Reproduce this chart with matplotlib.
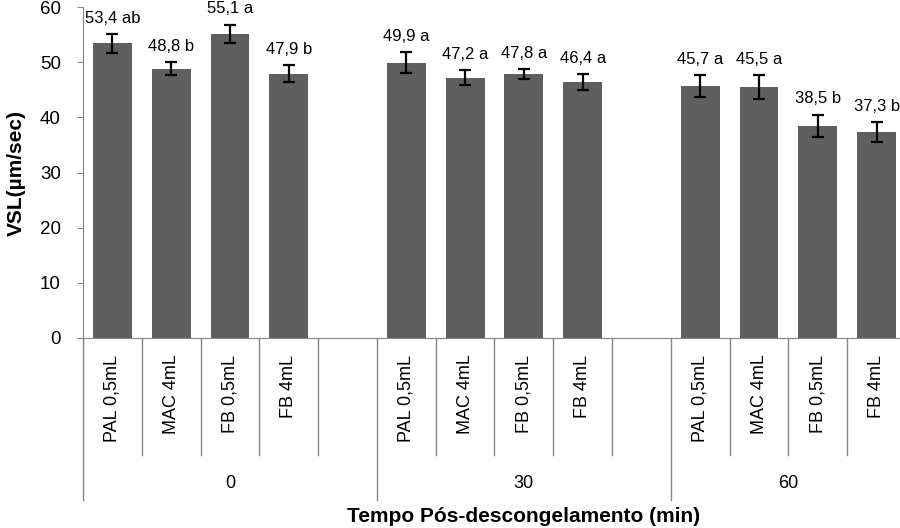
import matplotlib
matplotlib.use('Agg')
import matplotlib.pyplot as plt
import matplotlib.transforms as mtransforms

plt.rcParams['font.family'] = ['Liberation Sans', 'DejaVu Sans']

# Data
groups = ['0', '30', '60']
treatments = ['PAL 0,5mL', 'MAC 4mL', 'FB 0,5mL', 'FB 4mL']
values = [[53.4, 48.8, 55.1, 47.9],
          [49.9, 47.2, 47.8, 46.4],
          [45.7, 45.5, 38.5, 37.3]]
errors = [[1.7, 1.2, 1.7, 1.5],
          [1.9, 1.3, 0.9, 1.4],
          [2.0, 2.1, 2.0, 1.8]]
letters = [['ab', 'b', 'a', 'b'],
           ['a', 'a', 'a', 'a'],
           ['a', 'a', 'b', 'b']]

bar_color = '#5f5f5f'
axis_color = '#868686'

fig = plt.figure(figsize=(9, 5.28), dpi=100)
ax = fig.add_axes([83 / 900, 1 - 338 / 528, 823 / 900, 331 / 528])

# Excel-style category layout: a blank slot between groups
slot = 0
xs, ys, es, labs, starts = [], [], [], [], []
for g in range(len(groups)):
    starts.append(slot)
    for t in range(len(treatments)):
        xs.append(slot)
        ys.append(values[g][t])
        es.append(errors[g][t])
        labs.append(f"{values[g][t]:.1f}".replace('.', ',') + ' ' + letters[g][t])
        slot += 1
    if g < len(groups) - 1:
        slot += 1
nslots = slot

ax.bar(xs, ys, width=0.66, color=bar_color, zorder=2)
ax.errorbar(xs, ys, yerr=es, fmt='none', ecolor='black', elinewidth=1.6,
            capsize=4.5, capthick=1.6, zorder=3)
for x, y, e, lab in zip(xs, ys, es, labs):
    ax.annotate(lab, (x, y + e), xytext=(0, 6), textcoords='offset points',
                ha='center', va='bottom', fontsize=12)

ax.set_xlim(-0.5, nslots - 0.5)
ax.set_ylim(0, 60)
ax.set_yticks(range(0, 61, 10))
ax.tick_params(axis='y', length=4, color=axis_color, labelsize=13.5, pad=12)
ax.set_xticks([])
for s in ['top', 'right']:
    ax.spines[s].set_visible(False)
for s in ['left', 'bottom']:
    ax.spines[s].set_color(axis_color)

trans = mtransforms.blended_transform_factory(ax.transData, ax.transAxes)

# category labels and separators
for x, (g, t) in zip(xs, [(g, t) for g in range(len(groups)) for t in range(len(treatments))]):
    ax.text(x, -0.05, treatments[t], transform=trans, rotation=90,
            ha='center', va='top', fontsize=13)

group_ends = []
for g, s0 in enumerate(starts):
    end = s0 + len(treatments) + (1 if g < len(groups) - 1 else 0)
    group_ends.append(end)
    for b in range(s0 + 1, end):
        ax.plot([b - 0.5, b - 0.5], [0, -0.354], transform=trans, color=axis_color,
                lw=1, clip_on=False)
    ax.plot([s0 - 0.5, s0 - 0.5], [0, -0.49], transform=trans, color=axis_color,
            lw=1, clip_on=False)
    ax.text((s0 + end - 1) / 2, -0.44, groups[g], transform=trans,
            ha='center', va='center', fontsize=13)
ax.plot([group_ends[-1] - 0.5] * 2, [0, -0.49], transform=trans, color=axis_color,
        lw=1, clip_on=False)

ax.set_ylabel('VSL(µm/sec)', fontsize=15, fontweight='bold', labelpad=10)
fig.text(524 / 900, 1 - 517 / 528, 'Tempo Pós-descongelamento (min)',
         ha='center', va='center', fontsize=15, fontweight='bold')

fig.savefig('out.png', dpi=100)
